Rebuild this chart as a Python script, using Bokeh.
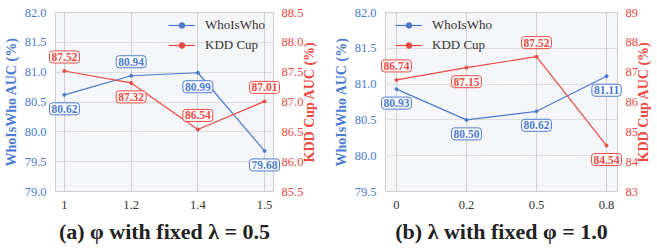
import math
from bokeh.plotting import figure
from bokeh.models import Range1d, LinearAxis, FixedTicker, Legend, LegendItem, Title
from bokeh.layouts import row
from bokeh.embed import file_html
from bokeh.resources import INLINE
from bokeh.core.properties import value

# ---- data ----
x_labels_a = ["1", "1.2", "1.4", "1.5"]
who_a = [80.62, 80.94, 80.99, 79.68]
kdd_a = [87.52, 87.32, 86.54, 87.01]
left_ticks_a = [79.0, 79.5, 80.0, 80.5, 81.0, 81.5, 82.0]
right_ticks_a = [85.5, 86.0, 86.5, 87.0, 87.5, 88.0, 88.5]

x_labels_b = ["0", "0.2", "0.5", "0.8"]
who_b = [80.93, 80.50, 80.62, 81.11]
kdd_b = [86.74, 87.15, 87.52, 84.54]
left_ticks_b = [79.5, 80.0, 80.5, 81.0, 81.5, 82.0]
right_ticks_b = [83, 84, 85, 86, 87, 88, 89]

caption_a = "(a) φ with fixed λ = 0.5"
caption_b = "(b) λ with fixed φ = 1.0"
left_label = "WhoIsWho AUC (%)"
right_label = "KDD Cup AUC (%)"

# label placement (style): -1 above, +1 below
who_side_a = [1, -1, 1, 1]
kdd_side_a = [-1, 1, -1, -1]
who_side_b = [1, 1, 1, 1]
kdd_side_b = [-1, 1, -1, 1]

BLUE = "#4a7ad2"
RED = "#ea4a3f"
SERIF = "Liberation Serif"


def make_panel(xl, who, kdd, lticks, rticks, lfmt, rfmt, caption, who_side, kdd_side,
               width, border_left, border_right, xpad, legend_loc, rlabel_off):
    p = figure(width=width, height=248, output_backend="svg", toolbar_location=None,
               min_border_left=border_left, min_border_right=border_right,
               min_border_top=12, min_border_bottom=56,
               x_range=Range1d(-xpad, 3 + xpad),
               y_range=Range1d(lticks[0], lticks[-1]))
    p.extra_y_ranges = {"r": Range1d(rticks[0], rticks[-1])}
    p.background_fill_color = "#f5f6f9"
    p.border_fill_color = "white"
    p.outline_line_color = "#cfcfcf"

    xs = list(range(len(xl)))

    l1 = p.line(xs, who, line_color=BLUE, line_width=1.2)
    s1 = p.scatter(xs, who, size=3, fill_color=BLUE, line_color=BLUE)
    l2 = p.line(xs, kdd, line_color=RED, line_width=1.2, y_range_name="r")
    s2 = p.scatter(xs, kdd, size=3, fill_color=RED, line_color=RED, y_range_name="r")

    def boxes(vals, side, color, rname):
        kw = {}
        if rname:
            kw["y_range_name"] = rname
        p.text(x=xs, y=vals, text=[f"{v:.2f}" for v in vals],
               y_offset=[14 * s for s in side],
               text_align="center", text_baseline="middle",
               text_font=value(SERIF), text_font_style="bold", text_font_size="11.5px",
               text_color=color, background_fill_color="white",
               border_line_color=color, border_line_width=1, padding=2, border_radius=3,
               level="overlay", **kw)

    boxes(who, who_side, BLUE, None)
    boxes(kdd, kdd_side, RED, "r")

    # x axis
    xa = p.xaxis[0]
    xa.ticker = FixedTicker(ticks=xs)
    xa.major_label_overrides = {i: s for i, s in enumerate(xl)}
    xa.major_label_text_font = SERIF
    xa.major_label_text_font_size = "12.5px"
    xa.major_label_text_color = "#333333"
    xa.major_label_standoff = 3
    xa.axis_line_color = None
    xa.major_tick_line_color = None
    xa.minor_tick_line_color = None

    # left axis
    ya = p.yaxis[0]
    ya.ticker = FixedTicker(ticks=lticks)
    ya.major_label_overrides = {t: lfmt.format(t) for t in lticks}
    ya.major_label_text_font = SERIF
    ya.major_label_text_font_size = "12.5px"
    ya.major_label_text_color = BLUE
    ya.major_label_standoff = 3
    ya.axis_label = left_label
    ya.axis_label_text_font = SERIF
    ya.axis_label_text_font_style = "bold"
    ya.axis_label_text_font_size = "14px"
    ya.axis_label_text_color = BLUE
    ya.axis_label_standoff = 3
    ya.axis_line_color = None
    ya.major_tick_line_color = None
    ya.minor_tick_line_color = None

    # right axis (label drawn as rotated text so that it reads bottom-to-top)
    ra = LinearAxis(y_range_name="r", ticker=FixedTicker(ticks=rticks))
    ra.major_label_overrides = {t: rfmt.format(t) for t in rticks}
    ra.major_label_text_font = SERIF
    ra.major_label_text_font_size = "12.5px"
    ra.major_label_text_color = RED
    ra.major_label_standoff = 2
    ra.axis_line_color = None
    ra.major_tick_line_color = None
    ra.minor_tick_line_color = None
    p.add_layout(ra, "right")

    p.text(x=[3 + xpad], y=[(rticks[0] + rticks[-1]) / 2], text=[right_label],
           x_offset=[rlabel_off], angle=math.pi / 2,
           text_align="center", text_baseline="middle",
           text_font=value(SERIF), text_font_style="bold", text_font_size="14px",
           text_color=RED, y_range_name="r", level="overlay")

    # grid
    xg, yg = p.xgrid[0], p.ygrid[0]
    xg.grid_line_color = "#a8a8a8"
    yg.grid_line_color = "#c4c4c4"
    for g in (xg, yg):
        g.grid_line_dash = "1 1"
        g.grid_line_width = 1

    legend = Legend(items=[LegendItem(label="WhoIsWho", renderers=[l1, s1]),
                           LegendItem(label="KDD Cup", renderers=[l2, s2])],
                    location=legend_loc, padding=0, margin=0, spacing=4,
                    glyph_width=27, glyph_height=14, label_height=14, label_standoff=10,
                    border_line_color=None, background_fill_alpha=0,
                    label_text_font=SERIF, label_text_font_size="13px",
                    label_text_color="#333333")
    p.add_layout(legend)

    t = Title(text=caption, align="center", text_font=SERIF, text_font_style="bold",
              text_font_size="22px", text_color="#222222", standoff=10)
    p.add_layout(t, "below")
    return p


p1 = make_panel(x_labels_a, who_a, kdd_a, left_ticks_a, right_ticks_a, "{:.1f}", "{:.1f}",
                caption_a, who_side_a, kdd_side_a, 330, 53, 57, 0.134, (113, 138), 36)
p2 = make_panel(x_labels_b, who_b, kdd_b, left_ticks_b, right_ticks_b, "{:.1f}", "{:.0f}",
                caption_b, who_side_b, kdd_side_b, 327, 55, 40, 0.157, (10, 138), 26)

layout = row(p1, p2, spacing=0)
open("out.html", "w").write(file_html(layout, INLINE))
